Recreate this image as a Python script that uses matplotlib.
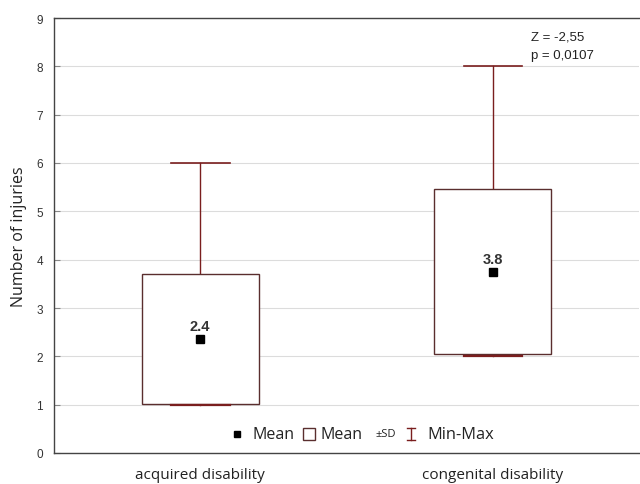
import matplotlib
matplotlib.use("Agg")
import matplotlib.pyplot as plt
from matplotlib.lines import Line2D

categories = ["acquired disability", "congenital disability"]
means = [2.36, 3.75]
sds = [1.345, 1.71]
mins = [1, 2]
maxs = [6, 8]
mean_labels = ["2.4", "3.8"]
yticks = list(range(0, 10))
stat_lines = ["Z = -2,55", "p = 0,0107"]

box_col = "#5a2e2e"
wh_col = "#7a1e1e"

fig = plt.figure(figsize=(6.4, 4.85), dpi=100)
ax = fig.add_axes([54/640, 1-454/485, 585/640, 435/485])

ax.set_xlim(-0.5, 1.5)
ax.set_ylim(0, 9)
ax.set_yticks(yticks)
ax.yaxis.grid(True, color="#dcdcdc", lw=0.8)
ax.set_axisbelow(True)

bw = 0.4
cw = 0.2
for i in range(len(categories)):
    lo = means[i] - sds[i]
    hi = means[i] + sds[i]
    ax.add_patch(plt.Rectangle((i - bw/2, lo), bw, hi - lo, facecolor="white",
                               edgecolor=box_col, lw=1.0, zorder=3))
    ax.plot([i, i], [hi, maxs[i]], color=wh_col, lw=1.0, zorder=2)
    ax.plot([i - cw/2, i + cw/2], [maxs[i], maxs[i]], color=wh_col, lw=1.2, zorder=4)
    ax.plot([i, i], [mins[i], lo], color=wh_col, lw=1.0, zorder=2)
    ax.plot([i - cw/2, i + cw/2], [mins[i], mins[i]], color=wh_col, lw=1.6, zorder=4)
    ax.plot([i], [means[i]], marker="s", ms=5.5, color="black", zorder=5, ls="none")
    ax.text(i, means[i] + 0.12, mean_labels[i], ha="center", va="bottom",
            fontsize=10.5, fontweight="bold", family="Liberation Sans", color="#333333", zorder=6)

ax.set_xticks(range(len(categories)))
ax.set_xticklabels(categories, family="Open Sans", fontsize=11, color="#222222")
ax.tick_params(axis="x", length=0, pad=10)
ax.tick_params(axis="y", direction="in", length=4, color="#888888", labelsize=8.5,
               labelcolor="#333333", pad=8)
for lab in ax.get_yticklabels():
    lab.set_family("Liberation Sans")
ax.set_ylabel("Number of injuries", family="Open Sans", fontsize=11.5, color="#222222", labelpad=7)

for s in ["left", "bottom", "top"]:
    ax.spines[s].set_color("#444444")
    ax.spines[s].set_linewidth(1.0)
ax.spines["right"].set_visible(False)

# stats annotation
ax.text(1.13, 8.62, stat_lines[0], fontsize=9.5, family="Liberation Sans", color="#222222", va="center")
ax.text(1.13, 8.23, stat_lines[1], fontsize=9.5, family="Liberation Sans", color="#222222", va="center")

# custom legend (figure pixel coordinates)
def fx(px):
    return px / 640
def fy(py):
    return 1 - py / 485

ly = 435
fig.add_artist(Line2D([fx(237)], [fy(ly)], marker="s", ms=5, color="black", ls="none"))
fig.text(fx(253), fy(ly), "Mean", fontsize=11.5, family="Open Sans", va="center", color="#222222")
fig.add_artist(Line2D([fx(309)], [fy(ly)], marker="s", ms=9, mfc="white", mec=box_col, mew=1.0, ls="none"))
fig.text(fx(320), fy(ly), "Mean", fontsize=11.5, family="Open Sans", va="center", color="#222222")
fig.text(fx(375), fy(ly), "±SD", fontsize=8, family="Open Sans", va="center", color="#222222")
x0 = fx(411)
fig.add_artist(Line2D([x0, x0], [fy(ly - 6), fy(ly + 6)], color=wh_col, lw=1.0))
fig.add_artist(Line2D([x0 - 0.006, x0 + 0.006], [fy(ly - 6), fy(ly - 6)], color=wh_col, lw=1.0))
fig.add_artist(Line2D([x0 - 0.006, x0 + 0.006], [fy(ly + 6), fy(ly + 6)], color=wh_col, lw=1.0))
fig.text(fx(427), fy(ly), "Min-Max", fontsize=11.8, family="Open Sans", va="center", color="#222222")

fig.savefig("out.png", dpi=100, facecolor="white")
